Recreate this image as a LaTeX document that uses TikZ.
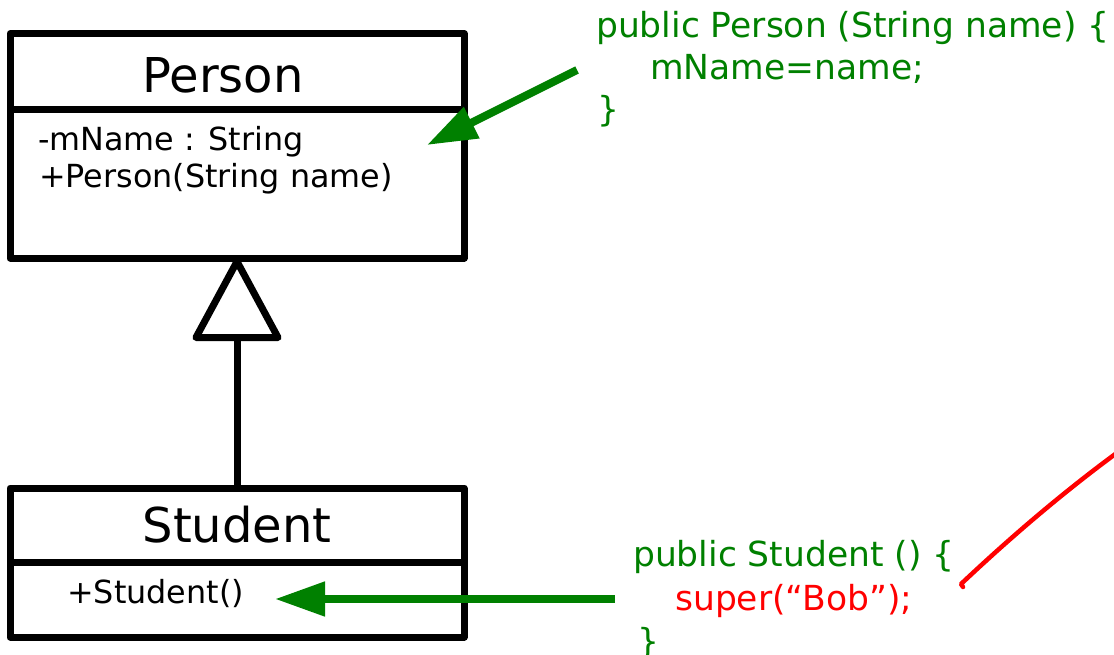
\documentclass[tikz,border=0pt]{standalone}
\usepackage{fontspec}
\setmainfont{DejaVu Sans}
\usetikzlibrary{arrows.meta}
\definecolor{codegreen}{RGB}{0,128,0}
\definecolor{codered}{RGB}{255,0,0}
\begin{document}
\begin{tikzpicture}[x=1pt,y=-1pt,
  umlbox/.style={draw=black,line width=7pt,line join=round,minimum width=454pt,inner sep=0pt,outer sep=0pt},
  divider/.style={draw=black,line width=7pt},
  classtitle/.style={font=\fontsize{48}{56}\selectfont,inner sep=0pt,anchor=base},
  member/.style={font=\fontsize{31.8}{38}\selectfont,inner sep=0pt,anchor=base west},
  code/.style={font=\fontsize{34.5}{42}\selectfont,inner sep=0pt,anchor=base west,text=codegreen},
  greenarrow/.style={draw=codegreen,fill=codegreen,line width=8pt,-{Triangle[length=50pt,width=33pt]}},
  inherit/.style={draw=black,line width=7pt,-{Triangle[open,length=87pt,width=92pt,line join=round]}},
  redmark/.style={draw=codered,line width=4.5pt,line cap=round,line join=round}
]
\clip (0,0) rectangle (1114,654);
% classes
\node[umlbox,minimum height=224.5pt] (person) at (237,145.75) {};
\coordinate (pdiv) at (0,109);
\draw[divider] (person.west |- pdiv) -- (person.east |- pdiv);
\node[classtitle] (ptitle) at (223,92) {Person};
\node[member] (pattr) at (38,150) {-mName : String};
\node[member] (pmeth) at (39,187) {+Person(String name)};

\node[umlbox,minimum height=149pt] (student) at (237,562.5) {};
\coordinate (sdiv) at (0,562);
\draw[divider] (student.west |- sdiv) -- (student.east |- sdiv);
\node[classtitle] (stitle) at (237,542) {Student};
\node[member] (smeth) at (67,603) {+Student()};

% inheritance
\draw[inherit] (student.north) -- (person.south);

% code
\node[code] (pc1) at (596,37) {public Person (String name) \{};
\node[code] (pc2) at (650,79) {mName=name;};
\node[code] (pc3) at (597,121) {\}};
\node[code] (sc1) at (633,566) {public Student () \{};
\node[code,text=codered] (sc2) at (675,610) {super(“Bob”);};
\node[code] (sc3) at (637,653) {\}};

% arrows
\coordinate (ptail) at (577,70);
\coordinate (ptip) at (427,145);
\draw[greenarrow] (ptail) -- (ptip);
\coordinate (stail) at (615,599);
\coordinate (stip) at (275,599);
\draw[greenarrow] (stail) -- (stip);

% red mark
\coordinate (rstart) at (963,587);
\coordinate (rhook) at (961,584);
\coordinate (rend) at (1118,452);
\draw[redmark] (rstart) -- (rhook) .. controls (995,552) and (1050,502) .. (rend);
\end{tikzpicture}
\end{document}
